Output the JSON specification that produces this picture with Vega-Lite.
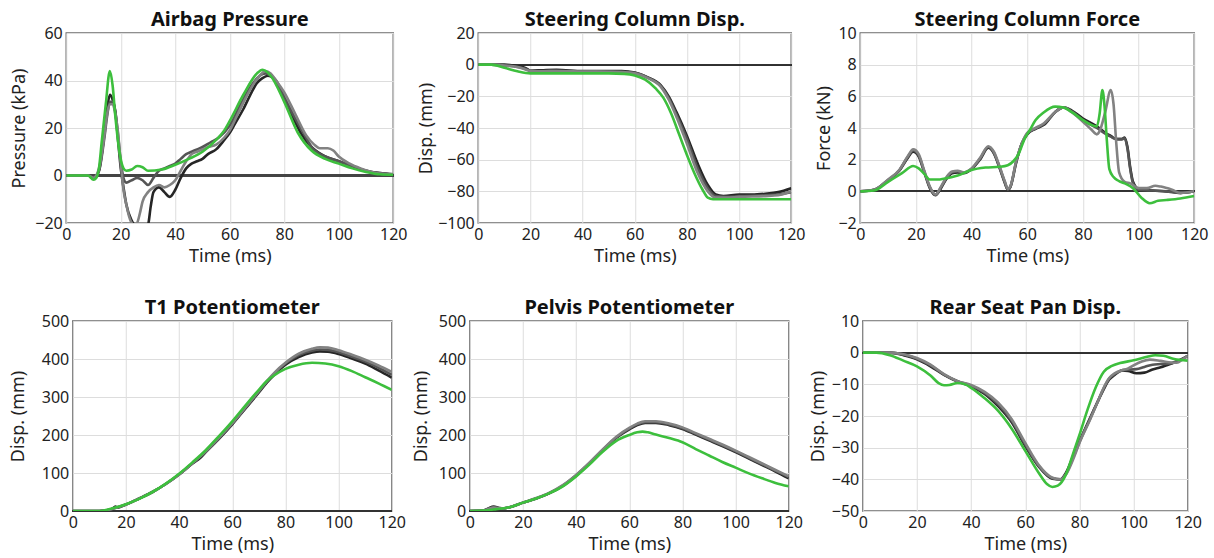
{
"$schema": "https://vega.github.io/schema/vega-lite/v6.json",
"padding": {"left": 8, "top": 9, "right": 0, "bottom": 0},
"background": "white",
"datasets": {"d": [
{"p":"ap","s":"A","t":0,"v":0},{"p":"ap","s":"A","t":8,"v":0},{"p":"ap","s":"A","t":10,"v":-1.5},{"p":"ap","s":"A","t":12,"v":2},{"p":"ap","s":"A","t":14,"v":18},{"p":"ap","s":"A","t":15,"v":28},{"p":"ap","s":"A","t":16,"v":34},{"p":"ap","s":"A","t":17,"v":32},{"p":"ap","s":"A","t":18,"v":27},{"p":"ap","s":"A","t":19,"v":15},{"p":"ap","s":"A","t":20,"v":3},{"p":"ap","s":"A","t":21,"v":-5},{"p":"ap","s":"A","t":22,"v":-12},{"p":"ap","s":"A","t":24,"v":-19},{"p":"ap","s":"A","t":26,"v":-22},{"p":"ap","s":"A","t":28,"v":-24},{"p":"ap","s":"A","t":30,"v":-21},{"p":"ap","s":"A","t":31,"v":-13},{"p":"ap","s":"A","t":32,"v":-7},{"p":"ap","s":"A","t":34,"v":-5},{"p":"ap","s":"A","t":36,"v":-7},{"p":"ap","s":"A","t":38,"v":-9},{"p":"ap","s":"A","t":40,"v":-6},{"p":"ap","s":"A","t":42,"v":-1},{"p":"ap","s":"A","t":44,"v":3},{"p":"ap","s":"A","t":46,"v":5},{"p":"ap","s":"A","t":48,"v":6},{"p":"ap","s":"A","t":50,"v":7},{"p":"ap","s":"A","t":52,"v":9},{"p":"ap","s":"A","t":55,"v":11},{"p":"ap","s":"A","t":58,"v":15},{"p":"ap","s":"A","t":60,"v":18},{"p":"ap","s":"A","t":62,"v":22},{"p":"ap","s":"A","t":65,"v":28},{"p":"ap","s":"A","t":68,"v":35},{"p":"ap","s":"A","t":70,"v":39},{"p":"ap","s":"A","t":72,"v":41},{"p":"ap","s":"A","t":74,"v":42},{"p":"ap","s":"A","t":76,"v":41},{"p":"ap","s":"A","t":78,"v":37},{"p":"ap","s":"A","t":80,"v":32},{"p":"ap","s":"A","t":83,"v":25},{"p":"ap","s":"A","t":86,"v":18},{"p":"ap","s":"A","t":90,"v":12},{"p":"ap","s":"A","t":95,"v":8},{"p":"ap","s":"A","t":100,"v":6},{"p":"ap","s":"A","t":105,"v":4},{"p":"ap","s":"A","t":110,"v":2},{"p":"ap","s":"A","t":115,"v":1},{"p":"ap","s":"A","t":120,"v":0.5},
{"p":"ap","s":"B","t":0,"v":0},{"p":"ap","s":"B","t":8,"v":0},{"p":"ap","s":"B","t":10,"v":-1},{"p":"ap","s":"B","t":12,"v":2},{"p":"ap","s":"B","t":14,"v":16},{"p":"ap","s":"B","t":15,"v":25},{"p":"ap","s":"B","t":16,"v":31},{"p":"ap","s":"B","t":17,"v":31},{"p":"ap","s":"B","t":18,"v":27},{"p":"ap","s":"B","t":19,"v":17},{"p":"ap","s":"B","t":20,"v":6},{"p":"ap","s":"B","t":21,"v":-1},{"p":"ap","s":"B","t":22,"v":-3},{"p":"ap","s":"B","t":24,"v":-2},{"p":"ap","s":"B","t":26,"v":-1},{"p":"ap","s":"B","t":28,"v":-2},{"p":"ap","s":"B","t":30,"v":-4},{"p":"ap","s":"B","t":32,"v":-1},{"p":"ap","s":"B","t":34,"v":2},{"p":"ap","s":"B","t":36,"v":3},{"p":"ap","s":"B","t":38,"v":4},{"p":"ap","s":"B","t":40,"v":5},{"p":"ap","s":"B","t":42,"v":7},{"p":"ap","s":"B","t":44,"v":9},{"p":"ap","s":"B","t":46,"v":10},{"p":"ap","s":"B","t":48,"v":11},{"p":"ap","s":"B","t":50,"v":12},{"p":"ap","s":"B","t":53,"v":14},{"p":"ap","s":"B","t":56,"v":16},{"p":"ap","s":"B","t":60,"v":21},{"p":"ap","s":"B","t":64,"v":30},{"p":"ap","s":"B","t":68,"v":38},{"p":"ap","s":"B","t":71,"v":42},{"p":"ap","s":"B","t":73,"v":43},{"p":"ap","s":"B","t":75,"v":42},{"p":"ap","s":"B","t":77,"v":40},{"p":"ap","s":"B","t":80,"v":33},{"p":"ap","s":"B","t":84,"v":24},{"p":"ap","s":"B","t":88,"v":16},{"p":"ap","s":"B","t":90,"v":12},{"p":"ap","s":"B","t":95,"v":8},{"p":"ap","s":"B","t":100,"v":6},{"p":"ap","s":"B","t":105,"v":4},{"p":"ap","s":"B","t":110,"v":2},{"p":"ap","s":"B","t":115,"v":1},{"p":"ap","s":"B","t":120,"v":0.5},
{"p":"ap","s":"C","t":0,"v":0},{"p":"ap","s":"C","t":8,"v":0},{"p":"ap","s":"C","t":10,"v":-1},{"p":"ap","s":"C","t":12,"v":3},{"p":"ap","s":"C","t":14,"v":17},{"p":"ap","s":"C","t":15,"v":26},{"p":"ap","s":"C","t":16,"v":30},{"p":"ap","s":"C","t":17,"v":30},{"p":"ap","s":"C","t":18,"v":26},{"p":"ap","s":"C","t":19,"v":18},{"p":"ap","s":"C","t":20,"v":5},{"p":"ap","s":"C","t":21,"v":-6},{"p":"ap","s":"C","t":22,"v":-12},{"p":"ap","s":"C","t":23,"v":-17},{"p":"ap","s":"C","t":24,"v":-20},{"p":"ap","s":"C","t":25,"v":-21},{"p":"ap","s":"C","t":26,"v":-20},{"p":"ap","s":"C","t":27,"v":-16},{"p":"ap","s":"C","t":28,"v":-11},{"p":"ap","s":"C","t":30,"v":-7},{"p":"ap","s":"C","t":32,"v":-5},{"p":"ap","s":"C","t":34,"v":-4},{"p":"ap","s":"C","t":36,"v":-5},{"p":"ap","s":"C","t":38,"v":-4},{"p":"ap","s":"C","t":40,"v":-2},{"p":"ap","s":"C","t":42,"v":2},{"p":"ap","s":"C","t":44,"v":6},{"p":"ap","s":"C","t":46,"v":9},{"p":"ap","s":"C","t":48,"v":10},{"p":"ap","s":"C","t":50,"v":11},{"p":"ap","s":"C","t":52,"v":12},{"p":"ap","s":"C","t":55,"v":13},{"p":"ap","s":"C","t":58,"v":16},{"p":"ap","s":"C","t":60,"v":19},{"p":"ap","s":"C","t":63,"v":26},{"p":"ap","s":"C","t":66,"v":33},{"p":"ap","s":"C","t":69,"v":39},{"p":"ap","s":"C","t":71,"v":42},{"p":"ap","s":"C","t":73,"v":44},{"p":"ap","s":"C","t":75,"v":43},{"p":"ap","s":"C","t":77,"v":40},{"p":"ap","s":"C","t":80,"v":35},{"p":"ap","s":"C","t":84,"v":26},{"p":"ap","s":"C","t":88,"v":17},{"p":"ap","s":"C","t":91,"v":13},{"p":"ap","s":"C","t":93,"v":11.5},{"p":"ap","s":"C","t":96,"v":11.5},{"p":"ap","s":"C","t":98,"v":10.5},{"p":"ap","s":"C","t":100,"v":8},{"p":"ap","s":"C","t":104,"v":5},{"p":"ap","s":"C","t":108,"v":3},{"p":"ap","s":"C","t":112,"v":1.5},{"p":"ap","s":"C","t":116,"v":0.7},{"p":"ap","s":"C","t":120,"v":0.5},
{"p":"scd","s":"A","t":0,"v":0},{"p":"scd","s":"A","t":5,"v":0},{"p":"scd","s":"A","t":10,"v":0},{"p":"scd","s":"A","t":15,"v":-1},{"p":"scd","s":"A","t":18,"v":-2},{"p":"scd","s":"A","t":20,"v":-3.8},{"p":"scd","s":"A","t":25,"v":-3.5},{"p":"scd","s":"A","t":30,"v":-3.3},{"p":"scd","s":"A","t":40,"v":-4},{"p":"scd","s":"A","t":50,"v":-4},{"p":"scd","s":"A","t":55,"v":-4},{"p":"scd","s":"A","t":60,"v":-5},{"p":"scd","s":"A","t":65,"v":-8},{"p":"scd","s":"A","t":70,"v":-13},{"p":"scd","s":"A","t":73,"v":-20},{"p":"scd","s":"A","t":76,"v":-30},{"p":"scd","s":"A","t":80,"v":-45},{"p":"scd","s":"A","t":84,"v":-62},{"p":"scd","s":"A","t":88,"v":-76},{"p":"scd","s":"A","t":91,"v":-82},{"p":"scd","s":"A","t":94,"v":-83},{"p":"scd","s":"A","t":100,"v":-82},{"p":"scd","s":"A","t":105,"v":-82},{"p":"scd","s":"A","t":110,"v":-81.5},{"p":"scd","s":"A","t":115,"v":-80.5},{"p":"scd","s":"A","t":120,"v":-78},
{"p":"scd","s":"B","t":0,"v":0},{"p":"scd","s":"B","t":5,"v":0},{"p":"scd","s":"B","t":10,"v":-0.5},{"p":"scd","s":"B","t":15,"v":-1.5},{"p":"scd","s":"B","t":18,"v":-2.5},{"p":"scd","s":"B","t":20,"v":-3.8},{"p":"scd","s":"B","t":25,"v":-4},{"p":"scd","s":"B","t":30,"v":-3.8},{"p":"scd","s":"B","t":40,"v":-4.2},{"p":"scd","s":"B","t":50,"v":-4.3},{"p":"scd","s":"B","t":55,"v":-4.5},{"p":"scd","s":"B","t":60,"v":-5.2},{"p":"scd","s":"B","t":65,"v":-8.2},{"p":"scd","s":"B","t":70,"v":-13.5},{"p":"scd","s":"B","t":73,"v":-21},{"p":"scd","s":"B","t":76,"v":-31.5},{"p":"scd","s":"B","t":80,"v":-47},{"p":"scd","s":"B","t":84,"v":-65},{"p":"scd","s":"B","t":88,"v":-78},{"p":"scd","s":"B","t":91,"v":-83},{"p":"scd","s":"B","t":95,"v":-83.5},{"p":"scd","s":"B","t":100,"v":-83},{"p":"scd","s":"B","t":110,"v":-82.5},{"p":"scd","s":"B","t":115,"v":-82},{"p":"scd","s":"B","t":120,"v":-80.5},
{"p":"scd","s":"C","t":0,"v":0},{"p":"scd","s":"C","t":5,"v":0},{"p":"scd","s":"C","t":10,"v":-0.5},{"p":"scd","s":"C","t":15,"v":-1.5},{"p":"scd","s":"C","t":18,"v":-3},{"p":"scd","s":"C","t":20,"v":-4},{"p":"scd","s":"C","t":25,"v":-4.2},{"p":"scd","s":"C","t":30,"v":-4},{"p":"scd","s":"C","t":40,"v":-4.3},{"p":"scd","s":"C","t":50,"v":-4.5},{"p":"scd","s":"C","t":55,"v":-4.6},{"p":"scd","s":"C","t":60,"v":-5.5},{"p":"scd","s":"C","t":65,"v":-8.5},{"p":"scd","s":"C","t":70,"v":-14},{"p":"scd","s":"C","t":73,"v":-22},{"p":"scd","s":"C","t":76,"v":-33},{"p":"scd","s":"C","t":80,"v":-50},{"p":"scd","s":"C","t":84,"v":-68},{"p":"scd","s":"C","t":88,"v":-80},{"p":"scd","s":"C","t":91,"v":-84},{"p":"scd","s":"C","t":95,"v":-84},{"p":"scd","s":"C","t":100,"v":-83.5},{"p":"scd","s":"C","t":110,"v":-83},{"p":"scd","s":"C","t":115,"v":-82.5},{"p":"scd","s":"C","t":120,"v":-80},
{"p":"scf","s":"A","t":0,"v":0},{"p":"scf","s":"A","t":5,"v":0.1},{"p":"scf","s":"A","t":10,"v":0.7},{"p":"scf","s":"A","t":14,"v":1.3},{"p":"scf","s":"A","t":17,"v":2.1},{"p":"scf","s":"A","t":19,"v":2.5},{"p":"scf","s":"A","t":21,"v":2.2},{"p":"scf","s":"A","t":23,"v":1.2},{"p":"scf","s":"A","t":25,"v":0.2},{"p":"scf","s":"A","t":27,"v":-0.25},{"p":"scf","s":"A","t":29,"v":0.2},{"p":"scf","s":"A","t":31,"v":0.8},{"p":"scf","s":"A","t":33,"v":1.15},{"p":"scf","s":"A","t":35,"v":1.2},{"p":"scf","s":"A","t":37,"v":1.15},{"p":"scf","s":"A","t":40,"v":1.4},{"p":"scf","s":"A","t":43,"v":2},{"p":"scf","s":"A","t":46,"v":2.75},{"p":"scf","s":"A","t":48,"v":2.4},{"p":"scf","s":"A","t":50,"v":1.5},{"p":"scf","s":"A","t":52,"v":0.5},{"p":"scf","s":"A","t":53,"v":0.1},{"p":"scf","s":"A","t":54,"v":0.3},{"p":"scf","s":"A","t":56,"v":1.8},{"p":"scf","s":"A","t":58,"v":3},{"p":"scf","s":"A","t":60,"v":3.6},{"p":"scf","s":"A","t":63,"v":3.95},{"p":"scf","s":"A","t":66,"v":4.2},{"p":"scf","s":"A","t":70,"v":5},{"p":"scf","s":"A","t":73,"v":5.3},{"p":"scf","s":"A","t":76,"v":5.1},{"p":"scf","s":"A","t":80,"v":4.6},{"p":"scf","s":"A","t":85,"v":4.1},{"p":"scf","s":"A","t":88,"v":3.7},{"p":"scf","s":"A","t":90,"v":3.5},{"p":"scf","s":"A","t":92,"v":3.3},{"p":"scf","s":"A","t":94,"v":3.3},{"p":"scf","s":"A","t":95,"v":3.4},{"p":"scf","s":"A","t":96,"v":2.8},{"p":"scf","s":"A","t":97,"v":1.5},{"p":"scf","s":"A","t":98,"v":0.6},{"p":"scf","s":"A","t":100,"v":0.15},{"p":"scf","s":"A","t":105,"v":0.05},{"p":"scf","s":"A","t":110,"v":0},{"p":"scf","s":"A","t":115,"v":-0.1},{"p":"scf","s":"A","t":120,"v":0},
{"p":"scf","s":"B","t":0,"v":0},{"p":"scf","s":"B","t":5,"v":0.1},{"p":"scf","s":"B","t":10,"v":0.72},{"p":"scf","s":"B","t":14,"v":1.32},{"p":"scf","s":"B","t":17,"v":2.15},{"p":"scf","s":"B","t":19,"v":2.58},{"p":"scf","s":"B","t":21,"v":2.25},{"p":"scf","s":"B","t":23,"v":1.25},{"p":"scf","s":"B","t":25,"v":0.25},{"p":"scf","s":"B","t":27,"v":-0.22},{"p":"scf","s":"B","t":29,"v":0.25},{"p":"scf","s":"B","t":31,"v":0.85},{"p":"scf","s":"B","t":33,"v":1.2},{"p":"scf","s":"B","t":35,"v":1.25},{"p":"scf","s":"B","t":37,"v":1.18},{"p":"scf","s":"B","t":40,"v":1.42},{"p":"scf","s":"B","t":43,"v":2.05},{"p":"scf","s":"B","t":46,"v":2.8},{"p":"scf","s":"B","t":48,"v":2.45},{"p":"scf","s":"B","t":50,"v":1.55},{"p":"scf","s":"B","t":52,"v":0.55},{"p":"scf","s":"B","t":53,"v":0.12},{"p":"scf","s":"B","t":54,"v":0.32},{"p":"scf","s":"B","t":56,"v":1.85},{"p":"scf","s":"B","t":58,"v":3},{"p":"scf","s":"B","t":60,"v":3.65},{"p":"scf","s":"B","t":63,"v":3.98},{"p":"scf","s":"B","t":66,"v":4.25},{"p":"scf","s":"B","t":70,"v":5},{"p":"scf","s":"B","t":73,"v":5.3},{"p":"scf","s":"B","t":76,"v":5.05},{"p":"scf","s":"B","t":80,"v":4.5},{"p":"scf","s":"B","t":85,"v":4},{"p":"scf","s":"B","t":88,"v":3.65},{"p":"scf","s":"B","t":90,"v":3.45},{"p":"scf","s":"B","t":92,"v":3.3},{"p":"scf","s":"B","t":94,"v":3.3},{"p":"scf","s":"B","t":95,"v":3.35},{"p":"scf","s":"B","t":96,"v":2.7},{"p":"scf","s":"B","t":97,"v":1.4},{"p":"scf","s":"B","t":98,"v":0.5},{"p":"scf","s":"B","t":100,"v":0.1},{"p":"scf","s":"B","t":105,"v":0.05},{"p":"scf","s":"B","t":110,"v":0},{"p":"scf","s":"B","t":115,"v":-0.1},{"p":"scf","s":"B","t":120,"v":0},
{"p":"scf","s":"C","t":0,"v":0},{"p":"scf","s":"C","t":5,"v":0.1},{"p":"scf","s":"C","t":10,"v":0.75},{"p":"scf","s":"C","t":14,"v":1.35},{"p":"scf","s":"C","t":17,"v":2.2},{"p":"scf","s":"C","t":19,"v":2.65},{"p":"scf","s":"C","t":21,"v":2.35},{"p":"scf","s":"C","t":23,"v":1.3},{"p":"scf","s":"C","t":25,"v":0.3},{"p":"scf","s":"C","t":27,"v":-0.2},{"p":"scf","s":"C","t":29,"v":0.3},{"p":"scf","s":"C","t":31,"v":0.9},{"p":"scf","s":"C","t":33,"v":1.25},{"p":"scf","s":"C","t":35,"v":1.3},{"p":"scf","s":"C","t":37,"v":1.2},{"p":"scf","s":"C","t":40,"v":1.45},{"p":"scf","s":"C","t":43,"v":2.1},{"p":"scf","s":"C","t":46,"v":2.85},{"p":"scf","s":"C","t":48,"v":2.5},{"p":"scf","s":"C","t":50,"v":1.6},{"p":"scf","s":"C","t":52,"v":0.6},{"p":"scf","s":"C","t":53,"v":0.15},{"p":"scf","s":"C","t":54,"v":0.35},{"p":"scf","s":"C","t":56,"v":1.9},{"p":"scf","s":"C","t":58,"v":3},{"p":"scf","s":"C","t":60,"v":3.7},{"p":"scf","s":"C","t":63,"v":4},{"p":"scf","s":"C","t":66,"v":4.3},{"p":"scf","s":"C","t":70,"v":5},{"p":"scf","s":"C","t":73,"v":5.3},{"p":"scf","s":"C","t":76,"v":5},{"p":"scf","s":"C","t":80,"v":4.4},{"p":"scf","s":"C","t":83,"v":3.9},{"p":"scf","s":"C","t":85,"v":3.6},{"p":"scf","s":"C","t":86,"v":3.8},{"p":"scf","s":"C","t":88,"v":5},{"p":"scf","s":"C","t":90,"v":6.4},{"p":"scf","s":"C","t":91,"v":5.5},{"p":"scf","s":"C","t":92,"v":3},{"p":"scf","s":"C","t":93,"v":1.2},{"p":"scf","s":"C","t":95,"v":0.6},{"p":"scf","s":"C","t":97,"v":0.5},{"p":"scf","s":"C","t":100,"v":0.2},{"p":"scf","s":"C","t":103,"v":0.2},{"p":"scf","s":"C","t":106,"v":0.35},{"p":"scf","s":"C","t":108,"v":0.3},{"p":"scf","s":"C","t":112,"v":0.1},{"p":"scf","s":"C","t":115,"v":-0.1},{"p":"scf","s":"C","t":120,"v":0},
{"p":"t1","s":"A","t":0,"v":0},{"p":"t1","s":"A","t":10,"v":0},{"p":"t1","s":"A","t":12,"v":1},{"p":"t1","s":"A","t":15,"v":6},{"p":"t1","s":"A","t":16,"v":12},{"p":"t1","s":"A","t":17,"v":9},{"p":"t1","s":"A","t":20,"v":17},{"p":"t1","s":"A","t":25,"v":33},{"p":"t1","s":"A","t":30,"v":50},{"p":"t1","s":"A","t":35,"v":71},{"p":"t1","s":"A","t":40,"v":96},{"p":"t1","s":"A","t":45,"v":125},{"p":"t1","s":"A","t":48,"v":140},{"p":"t1","s":"A","t":50,"v":155},{"p":"t1","s":"A","t":55,"v":190},{"p":"t1","s":"A","t":60,"v":228},{"p":"t1","s":"A","t":65,"v":270},{"p":"t1","s":"A","t":70,"v":312},{"p":"t1","s":"A","t":73,"v":338},{"p":"t1","s":"A","t":76,"v":360},{"p":"t1","s":"A","t":80,"v":385},{"p":"t1","s":"A","t":85,"v":405},{"p":"t1","s":"A","t":90,"v":417},{"p":"t1","s":"A","t":93,"v":420},{"p":"t1","s":"A","t":96,"v":419},{"p":"t1","s":"A","t":100,"v":413},{"p":"t1","s":"A","t":105,"v":401},{"p":"t1","s":"A","t":110,"v":388},{"p":"t1","s":"A","t":115,"v":370},{"p":"t1","s":"A","t":120,"v":351},
{"p":"t1","s":"B","t":0,"v":0},{"p":"t1","s":"B","t":10,"v":0},{"p":"t1","s":"B","t":12,"v":1},{"p":"t1","s":"B","t":15,"v":6},{"p":"t1","s":"B","t":20,"v":17},{"p":"t1","s":"B","t":25,"v":33},{"p":"t1","s":"B","t":30,"v":50},{"p":"t1","s":"B","t":35,"v":71},{"p":"t1","s":"B","t":40,"v":96},{"p":"t1","s":"B","t":45,"v":125},{"p":"t1","s":"B","t":50,"v":156},{"p":"t1","s":"B","t":55,"v":191},{"p":"t1","s":"B","t":60,"v":230},{"p":"t1","s":"B","t":65,"v":272},{"p":"t1","s":"B","t":70,"v":314},{"p":"t1","s":"B","t":73,"v":340},{"p":"t1","s":"B","t":76,"v":363},{"p":"t1","s":"B","t":80,"v":388},{"p":"t1","s":"B","t":85,"v":410},{"p":"t1","s":"B","t":90,"v":422},{"p":"t1","s":"B","t":93,"v":425},{"p":"t1","s":"B","t":96,"v":424},{"p":"t1","s":"B","t":100,"v":418},{"p":"t1","s":"B","t":105,"v":406},{"p":"t1","s":"B","t":110,"v":393},{"p":"t1","s":"B","t":115,"v":377},{"p":"t1","s":"B","t":120,"v":358},
{"p":"t1","s":"C","t":0,"v":0},{"p":"t1","s":"C","t":10,"v":0},{"p":"t1","s":"C","t":12,"v":1},{"p":"t1","s":"C","t":15,"v":6},{"p":"t1","s":"C","t":20,"v":17},{"p":"t1","s":"C","t":25,"v":33},{"p":"t1","s":"C","t":30,"v":50},{"p":"t1","s":"C","t":35,"v":71},{"p":"t1","s":"C","t":40,"v":96},{"p":"t1","s":"C","t":45,"v":126},{"p":"t1","s":"C","t":50,"v":157},{"p":"t1","s":"C","t":55,"v":193},{"p":"t1","s":"C","t":60,"v":231},{"p":"t1","s":"C","t":65,"v":273},{"p":"t1","s":"C","t":70,"v":316},{"p":"t1","s":"C","t":73,"v":342},{"p":"t1","s":"C","t":76,"v":365},{"p":"t1","s":"C","t":80,"v":390},{"p":"t1","s":"C","t":85,"v":414},{"p":"t1","s":"C","t":90,"v":427},{"p":"t1","s":"C","t":93,"v":431},{"p":"t1","s":"C","t":96,"v":430},{"p":"t1","s":"C","t":100,"v":423},{"p":"t1","s":"C","t":105,"v":411},{"p":"t1","s":"C","t":110,"v":398},{"p":"t1","s":"C","t":115,"v":383},{"p":"t1","s":"C","t":120,"v":366},
{"p":"pp","s":"A","t":0,"v":0},{"p":"pp","s":"A","t":5,"v":1},{"p":"pp","s":"A","t":7,"v":7},{"p":"pp","s":"A","t":9,"v":12},{"p":"pp","s":"A","t":11,"v":8},{"p":"pp","s":"A","t":13,"v":7},{"p":"pp","s":"A","t":15,"v":10},{"p":"pp","s":"A","t":20,"v":22},{"p":"pp","s":"A","t":25,"v":33},{"p":"pp","s":"A","t":30,"v":47},{"p":"pp","s":"A","t":35,"v":66},{"p":"pp","s":"A","t":40,"v":93},{"p":"pp","s":"A","t":45,"v":125},{"p":"pp","s":"A","t":50,"v":160},{"p":"pp","s":"A","t":55,"v":192},{"p":"pp","s":"A","t":60,"v":215},{"p":"pp","s":"A","t":63,"v":226},{"p":"pp","s":"A","t":66,"v":232},{"p":"pp","s":"A","t":70,"v":232},{"p":"pp","s":"A","t":75,"v":226},{"p":"pp","s":"A","t":80,"v":216},{"p":"pp","s":"A","t":85,"v":201},{"p":"pp","s":"A","t":90,"v":186},{"p":"pp","s":"A","t":95,"v":171},{"p":"pp","s":"A","t":100,"v":155},{"p":"pp","s":"A","t":105,"v":138},{"p":"pp","s":"A","t":110,"v":121},{"p":"pp","s":"A","t":115,"v":104},{"p":"pp","s":"A","t":120,"v":86},
{"p":"pp","s":"B","t":0,"v":0},{"p":"pp","s":"B","t":5,"v":1},{"p":"pp","s":"B","t":7,"v":6},{"p":"pp","s":"B","t":9,"v":10},{"p":"pp","s":"B","t":11,"v":8},{"p":"pp","s":"B","t":13,"v":7},{"p":"pp","s":"B","t":15,"v":10},{"p":"pp","s":"B","t":20,"v":22},{"p":"pp","s":"B","t":25,"v":33},{"p":"pp","s":"B","t":30,"v":47},{"p":"pp","s":"B","t":35,"v":67},{"p":"pp","s":"B","t":40,"v":94},{"p":"pp","s":"B","t":45,"v":126},{"p":"pp","s":"B","t":50,"v":161},{"p":"pp","s":"B","t":55,"v":193},{"p":"pp","s":"B","t":60,"v":217},{"p":"pp","s":"B","t":63,"v":228},{"p":"pp","s":"B","t":66,"v":234},{"p":"pp","s":"B","t":70,"v":234},{"p":"pp","s":"B","t":75,"v":228},{"p":"pp","s":"B","t":80,"v":218},{"p":"pp","s":"B","t":85,"v":203},{"p":"pp","s":"B","t":90,"v":188},{"p":"pp","s":"B","t":95,"v":173},{"p":"pp","s":"B","t":100,"v":157},{"p":"pp","s":"B","t":105,"v":140},{"p":"pp","s":"B","t":110,"v":123},{"p":"pp","s":"B","t":115,"v":106},{"p":"pp","s":"B","t":120,"v":89},
{"p":"pp","s":"C","t":0,"v":0},{"p":"pp","s":"C","t":5,"v":1},{"p":"pp","s":"C","t":7,"v":5},{"p":"pp","s":"C","t":9,"v":9},{"p":"pp","s":"C","t":11,"v":7},{"p":"pp","s":"C","t":13,"v":7},{"p":"pp","s":"C","t":15,"v":10},{"p":"pp","s":"C","t":20,"v":22},{"p":"pp","s":"C","t":25,"v":34},{"p":"pp","s":"C","t":30,"v":48},{"p":"pp","s":"C","t":35,"v":68},{"p":"pp","s":"C","t":40,"v":95},{"p":"pp","s":"C","t":45,"v":127},{"p":"pp","s":"C","t":50,"v":162},{"p":"pp","s":"C","t":55,"v":195},{"p":"pp","s":"C","t":60,"v":219},{"p":"pp","s":"C","t":63,"v":230},{"p":"pp","s":"C","t":66,"v":236},{"p":"pp","s":"C","t":70,"v":236},{"p":"pp","s":"C","t":75,"v":230},{"p":"pp","s":"C","t":80,"v":220},{"p":"pp","s":"C","t":85,"v":205},{"p":"pp","s":"C","t":90,"v":190},{"p":"pp","s":"C","t":95,"v":175},{"p":"pp","s":"C","t":100,"v":159},{"p":"pp","s":"C","t":105,"v":142},{"p":"pp","s":"C","t":110,"v":125},{"p":"pp","s":"C","t":115,"v":108},{"p":"pp","s":"C","t":120,"v":91},
{"p":"rsp","s":"A","t":0,"v":0},{"p":"rsp","s":"A","t":10,"v":0},{"p":"rsp","s":"A","t":15,"v":-0.8},{"p":"rsp","s":"A","t":20,"v":-2.1},{"p":"rsp","s":"A","t":25,"v":-4.3},{"p":"rsp","s":"A","t":30,"v":-7},{"p":"rsp","s":"A","t":35,"v":-9.1},{"p":"rsp","s":"A","t":40,"v":-10.6},{"p":"rsp","s":"A","t":45,"v":-13},{"p":"rsp","s":"A","t":50,"v":-16.9},{"p":"rsp","s":"A","t":55,"v":-22},{"p":"rsp","s":"A","t":60,"v":-29.5},{"p":"rsp","s":"A","t":65,"v":-36},{"p":"rsp","s":"A","t":70,"v":-39.8},{"p":"rsp","s":"A","t":73,"v":-40},{"p":"rsp","s":"A","t":75,"v":-38},{"p":"rsp","s":"A","t":78,"v":-32},{"p":"rsp","s":"A","t":80,"v":-28},{"p":"rsp","s":"A","t":84,"v":-20.5},{"p":"rsp","s":"A","t":87,"v":-15},{"p":"rsp","s":"A","t":89,"v":-11.5},{"p":"rsp","s":"A","t":91,"v":-8.5},{"p":"rsp","s":"A","t":93,"v":-7},{"p":"rsp","s":"A","t":96,"v":-5.6},{"p":"rsp","s":"A","t":98,"v":-5.8},{"p":"rsp","s":"A","t":101,"v":-6.5},{"p":"rsp","s":"A","t":104,"v":-6.3},{"p":"rsp","s":"A","t":107,"v":-5.3},{"p":"rsp","s":"A","t":110,"v":-4.6},{"p":"rsp","s":"A","t":114,"v":-3.4},{"p":"rsp","s":"A","t":117,"v":-2.4},{"p":"rsp","s":"A","t":120,"v":-1},
{"p":"rsp","s":"B","t":0,"v":0},{"p":"rsp","s":"B","t":10,"v":0},{"p":"rsp","s":"B","t":15,"v":-0.6},{"p":"rsp","s":"B","t":20,"v":-1.9},{"p":"rsp","s":"B","t":25,"v":-4},{"p":"rsp","s":"B","t":30,"v":-6.9},{"p":"rsp","s":"B","t":35,"v":-9},{"p":"rsp","s":"B","t":40,"v":-10.4},{"p":"rsp","s":"B","t":45,"v":-12.7},{"p":"rsp","s":"B","t":50,"v":-16.3},{"p":"rsp","s":"B","t":55,"v":-21.5},{"p":"rsp","s":"B","t":60,"v":-29},{"p":"rsp","s":"B","t":65,"v":-35.8},{"p":"rsp","s":"B","t":70,"v":-39.6},{"p":"rsp","s":"B","t":73,"v":-40},{"p":"rsp","s":"B","t":75,"v":-38.3},{"p":"rsp","s":"B","t":78,"v":-32.5},{"p":"rsp","s":"B","t":80,"v":-28.3},{"p":"rsp","s":"B","t":84,"v":-20.8},{"p":"rsp","s":"B","t":87,"v":-15},{"p":"rsp","s":"B","t":89,"v":-11.2},{"p":"rsp","s":"B","t":91,"v":-8.2},{"p":"rsp","s":"B","t":93,"v":-6.8},{"p":"rsp","s":"B","t":96,"v":-5.5},{"p":"rsp","s":"B","t":98,"v":-5.4},{"p":"rsp","s":"B","t":101,"v":-5.2},{"p":"rsp","s":"B","t":104,"v":-4.5},{"p":"rsp","s":"B","t":107,"v":-3.8},{"p":"rsp","s":"B","t":110,"v":-3.6},{"p":"rsp","s":"B","t":114,"v":-3.3},{"p":"rsp","s":"B","t":117,"v":-2.4},{"p":"rsp","s":"B","t":120,"v":-1},
{"p":"rsp","s":"C","t":0,"v":0},{"p":"rsp","s":"C","t":10,"v":0},{"p":"rsp","s":"C","t":15,"v":-0.5},{"p":"rsp","s":"C","t":20,"v":-1.7},{"p":"rsp","s":"C","t":25,"v":-3.8},{"p":"rsp","s":"C","t":30,"v":-6.8},{"p":"rsp","s":"C","t":35,"v":-9},{"p":"rsp","s":"C","t":40,"v":-10.2},{"p":"rsp","s":"C","t":45,"v":-12.4},{"p":"rsp","s":"C","t":50,"v":-15.8},{"p":"rsp","s":"C","t":55,"v":-21},{"p":"rsp","s":"C","t":60,"v":-28.5},{"p":"rsp","s":"C","t":65,"v":-35.5},{"p":"rsp","s":"C","t":70,"v":-39.5},{"p":"rsp","s":"C","t":73,"v":-40},{"p":"rsp","s":"C","t":75,"v":-38.5},{"p":"rsp","s":"C","t":78,"v":-33},{"p":"rsp","s":"C","t":80,"v":-28.5},{"p":"rsp","s":"C","t":84,"v":-21},{"p":"rsp","s":"C","t":87,"v":-15},{"p":"rsp","s":"C","t":89,"v":-11},{"p":"rsp","s":"C","t":91,"v":-8},{"p":"rsp","s":"C","t":93,"v":-6.5},{"p":"rsp","s":"C","t":96,"v":-5.5},{"p":"rsp","s":"C","t":98,"v":-5},{"p":"rsp","s":"C","t":100,"v":-4},{"p":"rsp","s":"C","t":103,"v":-2.8},{"p":"rsp","s":"C","t":106,"v":-2.2},{"p":"rsp","s":"C","t":110,"v":-2.6},{"p":"rsp","s":"C","t":113,"v":-3},{"p":"rsp","s":"C","t":116,"v":-3.2},{"p":"rsp","s":"C","t":118,"v":-2.2},{"p":"rsp","s":"C","t":120,"v":-1},
{"p":"ap","s":"M","t":0,"v":0},{"p":"ap","s":"M","t":8,"v":0},{"p":"ap","s":"M","t":10,"v":-1.8},{"p":"ap","s":"M","t":11,"v":-1},{"p":"ap","s":"M","t":12,"v":3},{"p":"ap","s":"M","t":13,"v":14},{"p":"ap","s":"M","t":14.5,"v":30},{"p":"ap","s":"M","t":16,"v":44},{"p":"ap","s":"M","t":17,"v":38},{"p":"ap","s":"M","t":18,"v":25},{"p":"ap","s":"M","t":19.5,"v":10},{"p":"ap","s":"M","t":21,"v":3},{"p":"ap","s":"M","t":22,"v":2},{"p":"ap","s":"M","t":24,"v":2.5},{"p":"ap","s":"M","t":26,"v":4},{"p":"ap","s":"M","t":28,"v":3.5},{"p":"ap","s":"M","t":30,"v":2},{"p":"ap","s":"M","t":35,"v":2.5},{"p":"ap","s":"M","t":40,"v":4.5},{"p":"ap","s":"M","t":45,"v":7},{"p":"ap","s":"M","t":50,"v":10},{"p":"ap","s":"M","t":55,"v":15},{"p":"ap","s":"M","t":58,"v":19},{"p":"ap","s":"M","t":60,"v":23},{"p":"ap","s":"M","t":65,"v":34},{"p":"ap","s":"M","t":70,"v":43},{"p":"ap","s":"M","t":72,"v":44.5},{"p":"ap","s":"M","t":75,"v":42},{"p":"ap","s":"M","t":80,"v":31},{"p":"ap","s":"M","t":85,"v":18},{"p":"ap","s":"M","t":90,"v":10.5},{"p":"ap","s":"M","t":95,"v":7},{"p":"ap","s":"M","t":100,"v":5},{"p":"ap","s":"M","t":105,"v":3},{"p":"ap","s":"M","t":110,"v":1.5},{"p":"ap","s":"M","t":115,"v":0.5},{"p":"ap","s":"M","t":120,"v":0.3},
{"p":"scd","s":"M","t":0,"v":0},{"p":"scd","s":"M","t":5,"v":0},{"p":"scd","s":"M","t":10,"v":-2},{"p":"scd","s":"M","t":15,"v":-4.2},{"p":"scd","s":"M","t":20,"v":-5.5},{"p":"scd","s":"M","t":30,"v":-5.5},{"p":"scd","s":"M","t":40,"v":-5.5},{"p":"scd","s":"M","t":50,"v":-5.5},{"p":"scd","s":"M","t":56,"v":-5.8},{"p":"scd","s":"M","t":60,"v":-6.8},{"p":"scd","s":"M","t":64,"v":-9.5},{"p":"scd","s":"M","t":68,"v":-15},{"p":"scd","s":"M","t":71,"v":-21},{"p":"scd","s":"M","t":74,"v":-31},{"p":"scd","s":"M","t":77,"v":-44},{"p":"scd","s":"M","t":80,"v":-57},{"p":"scd","s":"M","t":83,"v":-69},{"p":"scd","s":"M","t":86,"v":-79},{"p":"scd","s":"M","t":88,"v":-84},{"p":"scd","s":"M","t":90,"v":-85},{"p":"scd","s":"M","t":100,"v":-85},{"p":"scd","s":"M","t":110,"v":-85},{"p":"scd","s":"M","t":120,"v":-85},
{"p":"scf","s":"M","t":0,"v":0},{"p":"scf","s":"M","t":5,"v":0.05},{"p":"scf","s":"M","t":10,"v":0.6},{"p":"scf","s":"M","t":15,"v":1.15},{"p":"scf","s":"M","t":19,"v":1.6},{"p":"scf","s":"M","t":21,"v":1.45},{"p":"scf","s":"M","t":23,"v":1.1},{"p":"scf","s":"M","t":25,"v":0.75},{"p":"scf","s":"M","t":28,"v":0.75},{"p":"scf","s":"M","t":30,"v":0.8},{"p":"scf","s":"M","t":35,"v":1},{"p":"scf","s":"M","t":40,"v":1.35},{"p":"scf","s":"M","t":45,"v":1.5},{"p":"scf","s":"M","t":50,"v":1.55},{"p":"scf","s":"M","t":53,"v":1.65},{"p":"scf","s":"M","t":55,"v":1.9},{"p":"scf","s":"M","t":57,"v":2.4},{"p":"scf","s":"M","t":59,"v":3.3},{"p":"scf","s":"M","t":61,"v":3.9},{"p":"scf","s":"M","t":63,"v":4.5},{"p":"scf","s":"M","t":66,"v":5},{"p":"scf","s":"M","t":70,"v":5.35},{"p":"scf","s":"M","t":73,"v":5.3},{"p":"scf","s":"M","t":76,"v":5},{"p":"scf","s":"M","t":80,"v":4.5},{"p":"scf","s":"M","t":83,"v":4.2},{"p":"scf","s":"M","t":85,"v":4.1},{"p":"scf","s":"M","t":86,"v":4.9},{"p":"scf","s":"M","t":87,"v":6.4},{"p":"scf","s":"M","t":87.8,"v":5.3},{"p":"scf","s":"M","t":88.6,"v":3.2},{"p":"scf","s":"M","t":89.5,"v":1.4},{"p":"scf","s":"M","t":91,"v":0.9},{"p":"scf","s":"M","t":93,"v":0.65},{"p":"scf","s":"M","t":95,"v":0.5},{"p":"scf","s":"M","t":98,"v":0.2},{"p":"scf","s":"M","t":101,"v":-0.4},{"p":"scf","s":"M","t":104,"v":-0.75},{"p":"scf","s":"M","t":107,"v":-0.6},{"p":"scf","s":"M","t":110,"v":-0.55},{"p":"scf","s":"M","t":115,"v":-0.45},{"p":"scf","s":"M","t":120,"v":-0.3},
{"p":"t1","s":"M","t":0,"v":0},{"p":"t1","s":"M","t":10,"v":0},{"p":"t1","s":"M","t":12,"v":2},{"p":"t1","s":"M","t":15,"v":7},{"p":"t1","s":"M","t":20,"v":18},{"p":"t1","s":"M","t":25,"v":32},{"p":"t1","s":"M","t":30,"v":50},{"p":"t1","s":"M","t":35,"v":72},{"p":"t1","s":"M","t":40,"v":98},{"p":"t1","s":"M","t":45,"v":128},{"p":"t1","s":"M","t":50,"v":160},{"p":"t1","s":"M","t":55,"v":197},{"p":"t1","s":"M","t":60,"v":236},{"p":"t1","s":"M","t":65,"v":278},{"p":"t1","s":"M","t":70,"v":319},{"p":"t1","s":"M","t":73,"v":342},{"p":"t1","s":"M","t":76,"v":358},{"p":"t1","s":"M","t":80,"v":374},{"p":"t1","s":"M","t":85,"v":385},{"p":"t1","s":"M","t":90,"v":390},{"p":"t1","s":"M","t":95,"v":388},{"p":"t1","s":"M","t":100,"v":381},{"p":"t1","s":"M","t":105,"v":368},{"p":"t1","s":"M","t":110,"v":352},{"p":"t1","s":"M","t":115,"v":336},{"p":"t1","s":"M","t":120,"v":319},
{"p":"pp","s":"M","t":0,"v":0},{"p":"pp","s":"M","t":5,"v":1},{"p":"pp","s":"M","t":10,"v":5},{"p":"pp","s":"M","t":15,"v":10},{"p":"pp","s":"M","t":20,"v":22},{"p":"pp","s":"M","t":25,"v":33},{"p":"pp","s":"M","t":30,"v":47},{"p":"pp","s":"M","t":35,"v":65},{"p":"pp","s":"M","t":40,"v":91},{"p":"pp","s":"M","t":45,"v":122},{"p":"pp","s":"M","t":50,"v":156},{"p":"pp","s":"M","t":55,"v":184},{"p":"pp","s":"M","t":60,"v":200},{"p":"pp","s":"M","t":63,"v":207},{"p":"pp","s":"M","t":65,"v":209},{"p":"pp","s":"M","t":67,"v":207},{"p":"pp","s":"M","t":70,"v":201},{"p":"pp","s":"M","t":75,"v":192},{"p":"pp","s":"M","t":80,"v":181},{"p":"pp","s":"M","t":85,"v":163},{"p":"pp","s":"M","t":90,"v":146},{"p":"pp","s":"M","t":95,"v":129},{"p":"pp","s":"M","t":100,"v":114},{"p":"pp","s":"M","t":105,"v":99},{"p":"pp","s":"M","t":110,"v":86},{"p":"pp","s":"M","t":115,"v":74},{"p":"pp","s":"M","t":120,"v":65},
{"p":"rsp","s":"M","t":0,"v":0},{"p":"rsp","s":"M","t":5,"v":0},{"p":"rsp","s":"M","t":10,"v":-0.8},{"p":"rsp","s":"M","t":15,"v":-2.5},{"p":"rsp","s":"M","t":20,"v":-4.3},{"p":"rsp","s":"M","t":25,"v":-7.2},{"p":"rsp","s":"M","t":28,"v":-9.6},{"p":"rsp","s":"M","t":30,"v":-10.3},{"p":"rsp","s":"M","t":32,"v":-10.2},{"p":"rsp","s":"M","t":35,"v":-9.6},{"p":"rsp","s":"M","t":38,"v":-10.1},{"p":"rsp","s":"M","t":40,"v":-11.1},{"p":"rsp","s":"M","t":45,"v":-14.4},{"p":"rsp","s":"M","t":50,"v":-18.4},{"p":"rsp","s":"M","t":55,"v":-24},{"p":"rsp","s":"M","t":60,"v":-31},{"p":"rsp","s":"M","t":65,"v":-38},{"p":"rsp","s":"M","t":68,"v":-41.5},{"p":"rsp","s":"M","t":70,"v":-42.4},{"p":"rsp","s":"M","t":72,"v":-42},{"p":"rsp","s":"M","t":75,"v":-38.5},{"p":"rsp","s":"M","t":78,"v":-31},{"p":"rsp","s":"M","t":80,"v":-26},{"p":"rsp","s":"M","t":83,"v":-18},{"p":"rsp","s":"M","t":86,"v":-11},{"p":"rsp","s":"M","t":89,"v":-6},{"p":"rsp","s":"M","t":92,"v":-4.2},{"p":"rsp","s":"M","t":95,"v":-3.3},{"p":"rsp","s":"M","t":100,"v":-2.4},{"p":"rsp","s":"M","t":105,"v":-1.3},{"p":"rsp","s":"M","t":108,"v":-0.8},{"p":"rsp","s":"M","t":111,"v":-1},{"p":"rsp","s":"M","t":115,"v":-2},{"p":"rsp","s":"M","t":120,"v":-2.5}
]},
"data": {"name": "d"},
"spacing": 31,
"center": true,
"vconcat": [
{"spacing": 8, "hconcat": [
{"title": "Airbag Pressure", "width": 327, "height": 190,
 "transform": [{"filter": "datum.p == 'ap'"}],
 "layer": [
  {"mark": {"type": "rule", "color": "#444", "strokeWidth": 1.4}, "encoding": {"y": {"datum": 0, "type": "quantitative", "title": "Pressure (kPa)", "scale": {"domain": [-20, 60], "nice": false}, "axis": {"values": [-20, 0, 20, 40, 60], "grid": true, "titlePadding": 6}}}},
  {"mark": {"type": "line", "strokeWidth": 2.6, "interpolate": "monotone", "clip": true},
   "encoding": {
    "x": {"field": "t", "type": "quantitative", "title": "Time (ms)", "scale": {"domain": [0, 120], "nice": false}, "axis": {"values": [0, 20, 40, 60, 80, 100, 120]}},
    "y": {"field": "v", "type": "quantitative", "title": "Pressure (kPa)", "scale": {"domain": [-20, 60], "nice": false}, "axis": {"values": [-20, 0, 20, 40, 60], "grid": true, "titlePadding": 6}},
    "color": {"field": "s", "type": "nominal", "scale": {"domain": ["A", "B", "C", "M"], "range": ["#262626", "#555555", "#828282", "#3dbf3d"]}, "legend": null}
   }}
 ]},
{"title": "Steering Column Disp.", "width": 313, "height": 190,
 "transform": [{"filter": "datum.p == 'scd'"}],
 "layer": [
  {"mark": {"type": "rule", "color": "#333", "strokeWidth": 1.2}, "encoding": {"y": {"datum": 0, "type": "quantitative", "title": "Disp. (mm)", "scale": {"domain": [-100, 20], "nice": false}, "axis": {"values": [-100, -80, -60, -40, -20, 0, 20], "grid": true, "titlePadding": 2}}}},
  {"mark": {"type": "line", "strokeWidth": 2.6, "interpolate": "monotone", "clip": true},
   "encoding": {
    "x": {"field": "t", "type": "quantitative", "title": "Time (ms)", "scale": {"domain": [0, 120], "nice": false}, "axis": {"values": [0, 20, 40, 60, 80, 100, 120]}},
    "y": {"field": "v", "type": "quantitative", "title": "Disp. (mm)", "scale": {"domain": [-100, 20], "nice": false}, "axis": {"values": [-100, -80, -60, -40, -20, 0, 20], "grid": true, "titlePadding": 2}},
    "color": {"field": "s", "type": "nominal", "scale": {"domain": ["A", "B", "C", "M"], "range": ["#262626", "#555555", "#828282", "#3dbf3d"]}, "legend": null}
   }}
 ]},
{"title": "Steering Column Force", "width": 334, "height": 190,
 "transform": [{"filter": "datum.p == 'scf'"}],
 "layer": [
  {"mark": {"type": "rule", "color": "#333", "strokeWidth": 1.2}, "encoding": {"y": {"datum": 0, "type": "quantitative", "title": "Force (kN)", "scale": {"domain": [-2, 10], "nice": false}, "axis": {"values": [-2, 0, 2, 4, 6, 8, 10], "grid": true, "titlePadding": 4}}}},
  {"mark": {"type": "line", "strokeWidth": 2.6, "interpolate": "monotone", "clip": true},
   "encoding": {
    "x": {"field": "t", "type": "quantitative", "title": "Time (ms)", "scale": {"domain": [0, 120], "nice": false}, "axis": {"values": [0, 20, 40, 60, 80, 100, 120]}},
    "y": {"field": "v", "type": "quantitative", "title": "Force (kN)", "scale": {"domain": [-2, 10], "nice": false}, "axis": {"values": [-2, 0, 2, 4, 6, 8, 10], "grid": true, "titlePadding": 4}},
    "color": {"field": "s", "type": "nominal", "scale": {"domain": ["A", "B", "C", "M"], "range": ["#262626", "#555555", "#828282", "#3dbf3d"]}, "legend": null}
   }}
 ]}
]},
{"spacing": 4, "hconcat": [
{"title": "T1 Potentiometer", "width": 319, "height": 190,
 "transform": [{"filter": "datum.p == 't1'"}],
 "layer": [
  {"mark": {"type": "rule", "color": "#333", "strokeWidth": 1.2}, "encoding": {"y": {"datum": 0, "type": "quantitative", "title": "Disp. (mm)", "scale": {"domain": [0, 500], "nice": false}, "axis": {"values": [0, 100, 200, 300, 400, 500], "grid": true, "titlePadding": 14}}}},
  {"mark": {"type": "line", "strokeWidth": 2.6, "interpolate": "monotone", "clip": true},
   "encoding": {
    "x": {"field": "t", "type": "quantitative", "title": "Time (ms)", "scale": {"domain": [0, 120], "nice": false}, "axis": {"values": [0, 20, 40, 60, 80, 100, 120]}},
    "y": {"field": "v", "type": "quantitative", "title": "Disp. (mm)", "scale": {"domain": [0, 500], "nice": false}, "axis": {"values": [0, 100, 200, 300, 400, 500], "grid": true, "titlePadding": 14}},
    "color": {"field": "s", "type": "nominal", "scale": {"domain": ["A", "B", "C", "M"], "range": ["#262626", "#555555", "#828282", "#3dbf3d"]}, "legend": null}
   }}
 ]},
{"title": "Pelvis Potentiometer", "width": 319, "height": 190,
 "transform": [{"filter": "datum.p == 'pp'"}],
 "layer": [
  {"mark": {"type": "rule", "color": "#333", "strokeWidth": 1.2}, "encoding": {"y": {"datum": 0, "type": "quantitative", "title": "Disp. (mm)", "scale": {"domain": [0, 500], "nice": false}, "axis": {"values": [0, 100, 200, 300, 400, 500], "grid": true, "titlePadding": 8}}}},
  {"mark": {"type": "line", "strokeWidth": 2.6, "interpolate": "monotone", "clip": true},
   "encoding": {
    "x": {"field": "t", "type": "quantitative", "title": "Time (ms)", "scale": {"domain": [0, 120], "nice": false}, "axis": {"values": [0, 20, 40, 60, 80, 100, 120]}},
    "y": {"field": "v", "type": "quantitative", "title": "Disp. (mm)", "scale": {"domain": [0, 500], "nice": false}, "axis": {"values": [0, 100, 200, 300, 400, 500], "grid": true, "titlePadding": 8}},
    "color": {"field": "s", "type": "nominal", "scale": {"domain": ["A", "B", "C", "M"], "range": ["#262626", "#555555", "#828282", "#3dbf3d"]}, "legend": null}
   }}
 ]},
{"title": "Rear Seat Pan Disp.", "width": 325, "height": 190,
 "transform": [{"filter": "datum.p == 'rsp'"}],
 "layer": [
  {"mark": {"type": "rule", "color": "#333", "strokeWidth": 1.2}, "encoding": {"y": {"datum": 0, "type": "quantitative", "title": "Disp. (mm)", "scale": {"domain": [-50, 10], "nice": false}, "axis": {"values": [-50, -40, -30, -20, -10, 0, 10], "grid": true, "titlePadding": 4}}}},
  {"mark": {"type": "line", "strokeWidth": 2.6, "interpolate": "monotone", "clip": true},
   "encoding": {
    "x": {"field": "t", "type": "quantitative", "title": "Time (ms)", "scale": {"domain": [0, 120], "nice": false}, "axis": {"values": [0, 20, 40, 60, 80, 100, 120]}},
    "y": {"field": "v", "type": "quantitative", "title": "Disp. (mm)", "scale": {"domain": [-50, 10], "nice": false}, "axis": {"values": [-50, -40, -30, -20, -10, 0, 10], "grid": true, "titlePadding": 4}},
    "color": {"field": "s", "type": "nominal", "scale": {"domain": ["A", "B", "C", "M"], "range": ["#262626", "#555555", "#828282", "#3dbf3d"]}, "legend": null}
   }}
 ]}
]}
],
"config": {
 "font": "Noto Sans",
 "view": {"stroke": "#6b6b6b", "strokeWidth": 1.5},
 "axis": {"domain": false, "ticks": false, "labelFontSize": 16, "titleFontSize": 18, "titleFontWeight": "normal", "labelColor": "#222", "titleColor": "#222", "gridColor": "#dddddd", "gridWidth": 1, "labelPadding": 4, "titlePadding": 2, "labelFlush": false, "labelOverlap": false, "labelBound": false},
 "axisX": {"labelPadding": 3, "titlePadding": 5},
 "title": {"fontSize": 20, "fontWeight": "bold", "color": "#111", "offset": -5, "anchor": "middle", "frame": "group"}
}
}
